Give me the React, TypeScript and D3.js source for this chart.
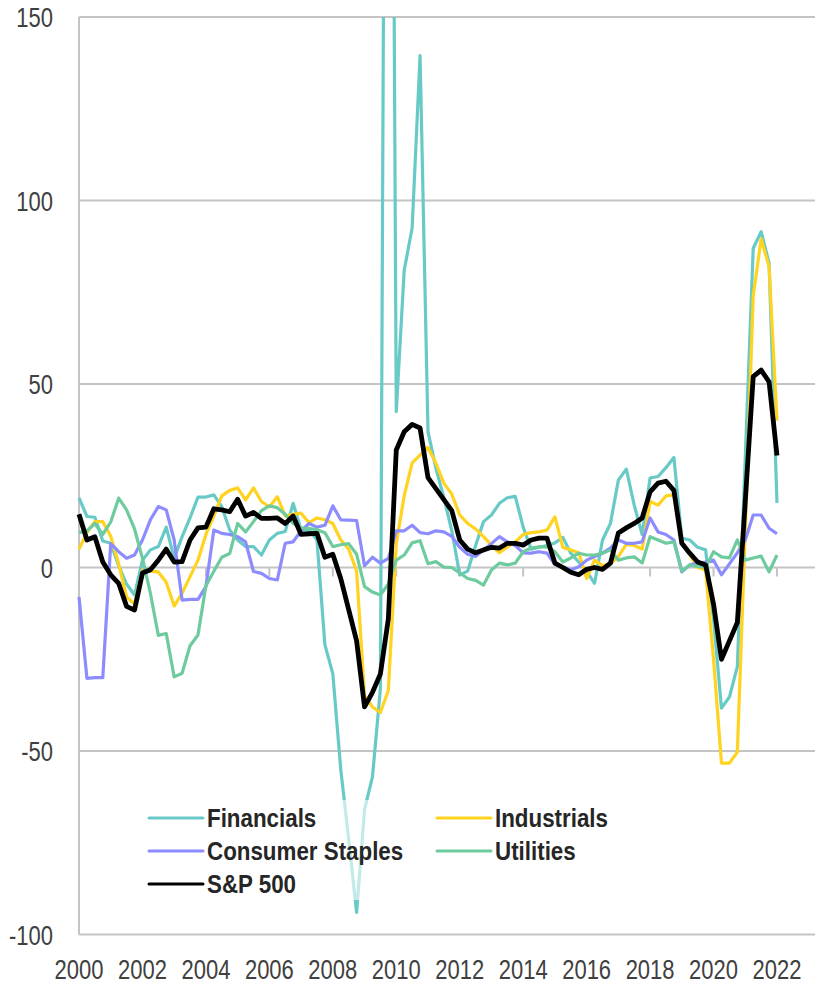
import React from 'react';
import * as d3 from 'd3';

// quarterly YoY EPS growth, 2000Q1 .. 2022Q1 (89 quarters)
const financials = [
  19, 13.9, 13.7, 7.2, 6.6, 0.5, -4.5, -7.5, 2, 4.8, 5.7, 11, 2.5, 8.4, 13.5, 19.2,
  19.2, 19.8, 16.6, 10.2, 7.5, 5.7, 5.7, 3.4, 7.5, 9.3, 9.8, 17.5, 10.2, 10.2, 7.5, -21,
  -29, -55, -74, -94, -66, -57, -33, 450, 42.5, 81, 92.5, 139.5, 37, 27, 19, 10,
  -2, -1, 6, 12.5, 14.3, 17.5, 19, 19.4, 11, 5, 5.5, 6, 6.7, 8.2, 3.9, 1.5,
  -1, -4.3, 7.5, 12, 23.8, 26.8, 17, 9, 24.4, 24.8, 27.2, 30, 8, 7.5, 5.5, 4.8,
  -14, -38.3, -35.3, -27, 30, 87, 91.5, 83, 17.6,
];

const industrials = [
  5, 9.5, 12.5, 12.5, 8.5, 1, -8, -10, -0.7, -1, -1.2, -4, -10.5, -7, -2.5, 2,
  9, 14, 19.5, 21, 21.7, 18.4, 21.7, 18, 16.5, 19.3, 14, 14.5, 14.8, 12.2, 13.5, 13,
  12, 7.5, 5, -1, -35, -38, -39.5, -33.5, 6.5, 19.5, 28.5, 30.6, 32.7, 28.4, 23, 20,
  14.3, 12, 10.5, 8.4, 6.1, 4, 5.6, 7, 9, 9.5, 9.7, 10.2, 13.8, 5.5, 4.8, 4,
  -3, 2, 0.5, 1, 3, 6.3, 6, 5, 18, 17, 19.5, 19.8, 7, 3.5, 0, -0.7,
  -25, -53.3, -53.3, -50.3, 10, 74, 89.5, 82, 40,
];

const consumerStaples = [
  -8, -30.2, -30, -30, 6.5, 4.3, 2.5, 3.4, 7.5, 13, 16.6, 15.7, 7.5, -8.9, -8.7, -8.7,
  -5.2, 10.2, 9.3, 9, 8.4, 7, -1.1, -1.6, -3, -3.4, 6.6, 7, 10, 12, 11, 11.5,
  16.8, 13, 12.9, 12.8, 0.5, 2.8, 1.2, 2.5, 10, 10, 11.5, 9.5, 9.2, 10, 9.7, 8.5,
  5.5, 3.6, 3, 4.8, 6.5, 8.4, 7, 6, 4, 3.9, 4.3, 3.9, 0.8, 0.2, -0.7, 0.2,
  2, 3, 3.9, 5.3, 7.5, 6.6, 6.6, 7, 13.5, 9.7, 9, 7.5, -1.2, 0.7, 1.2, 1.5,
  2, -2, 1, 4, 7.5, 14.3, 14.3, 10.7, 9.2,
];

const utilities = [
  9.5, 10, 12, 9, 12.4, 18.9, 15.7, 10.5, 2.5, -7, -18.5, -18, -29.8, -28.8, -21.3, -18.4,
  -5, -1, 2.8, 3.8, 12, 9.7, 12.5, 15.5, 16.8, 16.3, 14.5, 12, 10.8, 10.6, 10.3, 9.5,
  5.7, 6.2, 6.5, 3.6, -5.2, -6.7, -7.5, -4.5, 2, 3.4, 6.7, 7.3, 1, 1.6, 0.1, 0,
  -1.5, -3, -3.5, -4.8, -0.7, 1.2, 0.7, 1.2, 4.3, 5.3, 5.6, 5.6, 4.3, 1.5, 2.6, 3.9,
  3.4, 3.4, 3.9, 4.8, 2, 2.6, 2.9, 1.2, 8.4, 7.5, 6.6, 7, -1, 0.7, 0.3, 0,
  4.3, 2.9, 2.6, 7.5, 2, 2.6, 3.1, -1.2, 3.4,
];

const sp500 = [
  14.5, 7.5, 8.4, 1.5, -2, -4.3, -10.6, -11.6, -1.5, -0.6, 2, 5, 1.5, 1.6, 7.5, 10.8,
  11, 16, 15.7, 15.2, 18.6, 14, 15, 13.4, 13.4, 13.5, 12, 14, 9, 9.2, 9.3, 2.8,
  3.6, -3, -11.5, -20, -38, -34, -29, -14, 32, 37, 39, 38, 24.5, 21.5, 18.5, 15.5,
  7.5, 5, 4, 4.8, 5.5, 5.3, 6.6, 6.6, 6.1, 7.5, 8, 8, 1.2, 0, -1.3, -2,
  -0.5, 0, -0.5, 1.2, 9.4, 10.8, 12, 13.5, 20.6, 23, 23.5, 21, 6.6, 3.9, 1.5, 0.7,
  -10, -25, -20, -15, 18, 52, 53.8, 50.6, 30.5,
];

const yearLabels = ['2000', '2002', '2004', '2006', '2008', '2010', '2012', '2014', '2016', '2018', '2020', '2022'];
const yTicks = [150, 100, 50, 0, -50, -100];

const series = [
  { name: 'Financials', values: financials, color: '#68CAC7', width: 3.2 },
  { name: 'Industrials', values: industrials, color: '#FFD320', width: 3.2 },
  { name: 'Consumer Staples', values: consumerStaples, color: '#8C8CFF', width: 3.2 },
  { name: 'Utilities', values: utilities, color: '#6DCB9D', width: 3.2 },
  { name: 'S&P 500', values: sp500, color: '#000000', width: 4.8 },
];

const W = 815;
const H = 985;
const plot = { left: 79, right: 815, top: 17, bottom: 934.5 };
const lastX = 777;

// no narrow font installed: squeeze Liberation Sans horizontally instead
const FONT = "'Liberation Sans', Arial, sans-serif";

function NarrowText({ x, y, size, squeeze, anchor = 'start', weight = 'normal', fill, children }: any) {
  return (
    <text
      transform={`translate(${x},${y}) scale(${squeeze},1)`}
      textAnchor={anchor}
      fontFamily={FONT}
      fontSize={size}
      fontWeight={weight}
      fill={fill}
    >
      {children}
    </text>
  );
}

export default function App() {
  const n = financials.length;
  const x = d3.scaleLinear().domain([0, n - 1]).range([plot.left, lastX]);
  const y = d3.scaleLinear().domain([-100, 150]).range([plot.bottom, plot.top]);

  const line = d3
    .line<number>()
    .x((_, i) => x(i))
    .y((d) => y(d));

  // legend layout
  const legendRows = [
    [series[0], series[1]],
    [series[2], series[3]],
    [series[4]],
  ];
  const colX = [149, 437];
  const rowY = [818, 851, 884];

  return (
    <svg
      width={W}
      height={H}
      style={{ position: 'absolute', left: 0, top: 0, background: '#fff' }}
    >
      <defs>
        <clipPath id="plotClip">
          <rect x={plot.left - 6} y={plot.top} width={plot.right - plot.left + 6} height={plot.bottom - plot.top + 6} />
        </clipPath>
      </defs>

      {/* gridlines */}
      {yTicks.map((t) => (
        <line
          key={t}
          x1={plot.left}
          x2={plot.right}
          y1={y(t)}
          y2={y(t)}
          stroke="#C4C4C4"
          strokeWidth={2}
        />
      ))}

      {/* vertical axis */}
      <line x1={plot.left} x2={plot.left} y1={plot.top} y2={plot.bottom} stroke="#C4C4C4" strokeWidth={2} />

      {/* category tick marks on the zero line */}
      {yearLabels.map((lab, k) => (
        <line
          key={lab}
          x1={x(k * 8)}
          x2={x(k * 8)}
          y1={y(0)}
          y2={y(0) + 9}
          stroke="#C4C4C4"
          strokeWidth={2}
        />
      ))}

      {/* series */}
      <g clipPath="url(#plotClip)">
        {series.map((s) => (
          <path
            key={s.name}
            d={line(s.values) || ''}
            fill="none"
            stroke={s.color}
            strokeWidth={s.width}
            strokeLinejoin="round"
          />
        ))}
      </g>

      {/* legend */}
      <rect x={140} y={800} width={480} height={100} fill="#fff" fillOpacity={0.6} />
      {legendRows.map((row, r) =>
        row.map((s, c) => (
          <g key={s.name}>
            <line
              x1={colX[c]}
              x2={colX[c] + 54}
              y1={rowY[r]}
              y2={rowY[r]}
              stroke={s.color}
              strokeWidth={3}
              strokeLinecap="round"
            />
            <NarrowText x={colX[c] + 58} y={rowY[r] + 9} size={26} squeeze={0.86} weight="bold" fill="#262626">
              {s.name}
            </NarrowText>
          </g>
        ))
      )}

      {/* y labels */}
      {yTicks.map((t) => (
        <NarrowText key={t} x={53} y={y(t) + 10} size={27.5} squeeze={0.8} anchor="end" fill="#404040">
          {t}
        </NarrowText>
      ))}

      {/* x labels */}
      {yearLabels.map((lab, k) => (
        <NarrowText key={lab} x={x(k * 8)} y={979} size={27.5} squeeze={0.8} anchor="middle" fill="#404040">
          {lab}
        </NarrowText>
      ))}
    </svg>
  );
}
